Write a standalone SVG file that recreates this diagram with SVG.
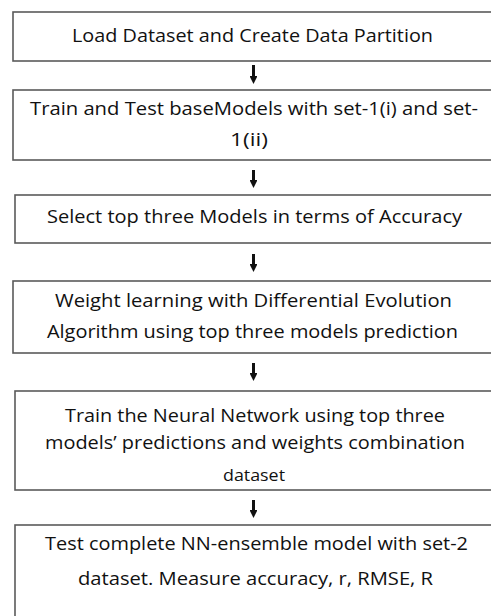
<svg xmlns="http://www.w3.org/2000/svg" width="491" height="616" viewBox="0 0 491 616">
<style>
.box{fill:#fff;stroke:#5a5a5a;stroke-width:1.6}
.t{font-family:"Open Sans","Liberation Sans",Arial,sans-serif;font-size:17.5px;fill:#111;text-anchor:middle}
.s{font-size:16px}
.c{stroke:#111;stroke-width:3;fill:none}
</style>
<defs>
<marker id="ah" viewBox="0 0 10 10" refX="5" refY="5" markerWidth="2.6" markerHeight="2.6" orient="auto" markerUnits="strokeWidth">
<path d="M0,0 L10,5 L0,10 z" fill="#111"/>
</marker>
</defs>
<rect width="491" height="616" fill="#fff"/>
<g id="n1">
<rect class="box" x="13" y="12" width="490" height="49"/>
<text class="t" x="252.5" y="42" textLength="361" lengthAdjust="spacingAndGlyphs">Load Dataset and Create Data Partition</text>
</g>
<g id="n2">
<rect class="box" x="13" y="90" width="490" height="70"/>
<text class="t" x="254" y="115" textLength="448" lengthAdjust="spacingAndGlyphs">Train and Test baseModels with set-1(i) and set-</text>
<text class="t" x="249" y="146" textLength="38" lengthAdjust="spacingAndGlyphs">1(ii)</text>
</g>
<g id="n3">
<rect class="box" x="15" y="195" width="488" height="48"/>
<text class="t" x="254.5" y="223" textLength="415" lengthAdjust="spacingAndGlyphs">Select top three Models in terms of Accuracy</text>
</g>
<g id="n4">
<rect class="box" x="13" y="281" width="490" height="72"/>
<text class="t" x="253.5" y="307" textLength="397" lengthAdjust="spacingAndGlyphs">Weight learning with Differential Evolution</text>
<text class="t" x="252.5" y="338" textLength="411" lengthAdjust="spacingAndGlyphs">Algorithm using top three models prediction</text>
</g>
<g id="n5">
<rect class="box" x="15" y="391" width="488" height="99"/>
<text class="t" x="255" y="422" textLength="380" lengthAdjust="spacingAndGlyphs">Train the Neural Network using top three</text>
<text class="t" x="255" y="449" textLength="420" lengthAdjust="spacingAndGlyphs">models’ predictions and weights combination</text>
<text class="t s" x="254" y="481" textLength="62" lengthAdjust="spacingAndGlyphs">dataset</text>
</g>
<g id="n6">
<rect class="box" x="15" y="525" width="488" height="100"/>
<text class="t" x="256.5" y="550" textLength="423" lengthAdjust="spacingAndGlyphs">Test complete NN-ensemble model with set-2</text>
<text class="t" x="255.5" y="585" textLength="355" lengthAdjust="spacingAndGlyphs">dataset. Measure accuracy, r, RMSE, R</text>
</g>
<g id="connectors">
<line class="c" x1="253.5" y1="65" x2="253.5" y2="80" marker-end="url(#ah)"/>
<line class="c" x1="253.5" y1="170" x2="253.5" y2="184" marker-end="url(#ah)"/>
<line class="c" x1="253.5" y1="254" x2="253.5" y2="268" marker-end="url(#ah)"/>
<line class="c" x1="253.5" y1="363" x2="253.5" y2="377" marker-end="url(#ah)"/>
<line class="c" x1="253.5" y1="500" x2="253.5" y2="514" marker-end="url(#ah)"/>
</g>
</svg>
